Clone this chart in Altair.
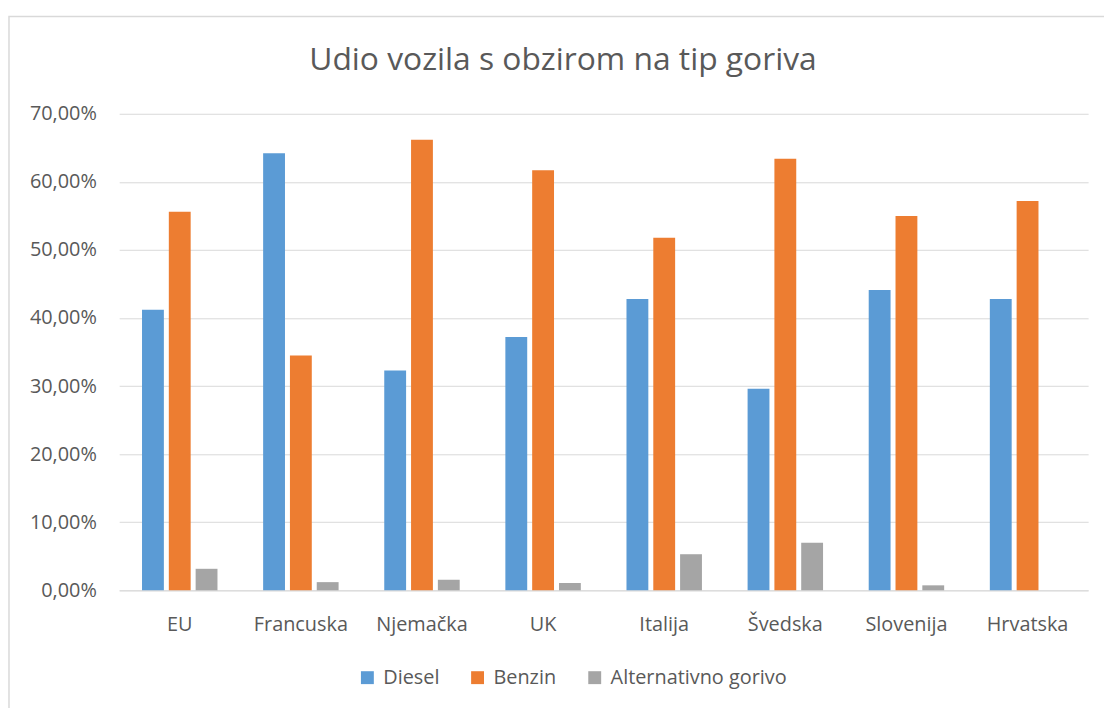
import altair as alt
import pandas as pd

countries = ["EU", "Francuska", "Njemačka", "UK", "Italija", "Švedska", "Slovenija", "Hrvatska"]
series = ["Diesel", "Benzin", "Alternativno gorivo"]
diesel = [0.412, 0.642, 0.323, 0.372, 0.428, 0.296, 0.441, 0.428]
benzin = [0.556, 0.345, 0.662, 0.617, 0.518, 0.634, 0.550, 0.572]
alternativno = [0.0316, 0.012, 0.0155, 0.0107, 0.053, 0.070, 0.0073, 0.0]
colors = ["#5B9BD5", "#ED7D31", "#A5A5A5"]
y_ticks = [0, 0.1, 0.2, 0.3, 0.4, 0.5, 0.6, 0.7]
title_text = "Udio vozila s obzirom na tip goriva"

rows = []
for i, c in enumerate(countries):
    for s, vals in zip(series, [diesel, benzin, alternativno]):
        rows.append({"zemlja": c, "gorivo": s, "udio": vals[i], "red": series.index(s)})
df = pd.DataFrame(rows)

FONT = "Open Sans"
TXT = "#595959"
GRID = "#D9D9D9"

bars = alt.Chart(df).mark_bar().encode(
    x=alt.X("zemlja:N", sort=countries,
            scale=alt.Scale(paddingInner=0.377, paddingOuter=0.1885),
            axis=alt.Axis(title=None, labelAngle=0, ticks=False, tickSize=0,
                          domain=True, domainColor=GRID, domainWidth=1,
                          labelPadding=24, labelFontSize=20, labelColor=TXT,
                          labelFont=FONT)),
    xOffset=alt.XOffset("gorivo:N", sort=series,
                        scale=alt.Scale(paddingInner=0.185, paddingOuter=0)),
    y=alt.Y("udio:Q", scale=alt.Scale(domain=[0, 0.7], nice=False),
            axis=alt.Axis(title=None, values=y_ticks, domain=False, ticks=False,
                          tickSize=0, gridColor=GRID, gridWidth=1,
                          labelPadding=23, labelFontSize=20, labelColor=TXT,
                          labelFont=FONT,
                          labelExpr="replace(format(datum.value, '.2%'), '.', ',')")),
    color=alt.Color("gorivo:N", sort=series,
                    scale=alt.Scale(domain=series, range=colors),
                    legend=alt.Legend(title=None, orient="none", direction="horizontal",
                                      legendX=240, legendY=558, padding=0,
                                      symbolType="square", symbolSize=169,
                                      symbolStrokeWidth=0, symbolOpacity=1,
                                      labelFontSize=20, labelColor=TXT, labelFont=FONT,
                                      labelOffset=6, columnPadding=28, labelLimit=400)),
    order=alt.Order("red:Q"),
)

border = alt.Chart(alt.Data(values=[{"k": 1}])).mark_rect(
    fill=None, stroke=GRID, strokeWidth=1.5
).encode(
    x=alt.value(-111), x2=alt.value(1300),
    y=alt.value(-98), y2=alt.value(900),
)

title = alt.Chart(alt.Data(values=[{"t": title_text}])).mark_text(
    font=FONT, fontSize=32, color=TXT, align="center", baseline="alphabetic"
).encode(
    text="t:N", x=alt.value(447), y=alt.value(-44),
)

chart = alt.layer(border, bars, title).properties(
    width=976,
    height=480,
    padding={"left": 112, "top": 104, "right": 16, "bottom": 116},
    autosize=alt.AutoSizeParams(type="none"),
    background="white",
).configure_view(stroke=None)

chart.save("out.html", embed_options={"renderer": "svg", "actions": False})
